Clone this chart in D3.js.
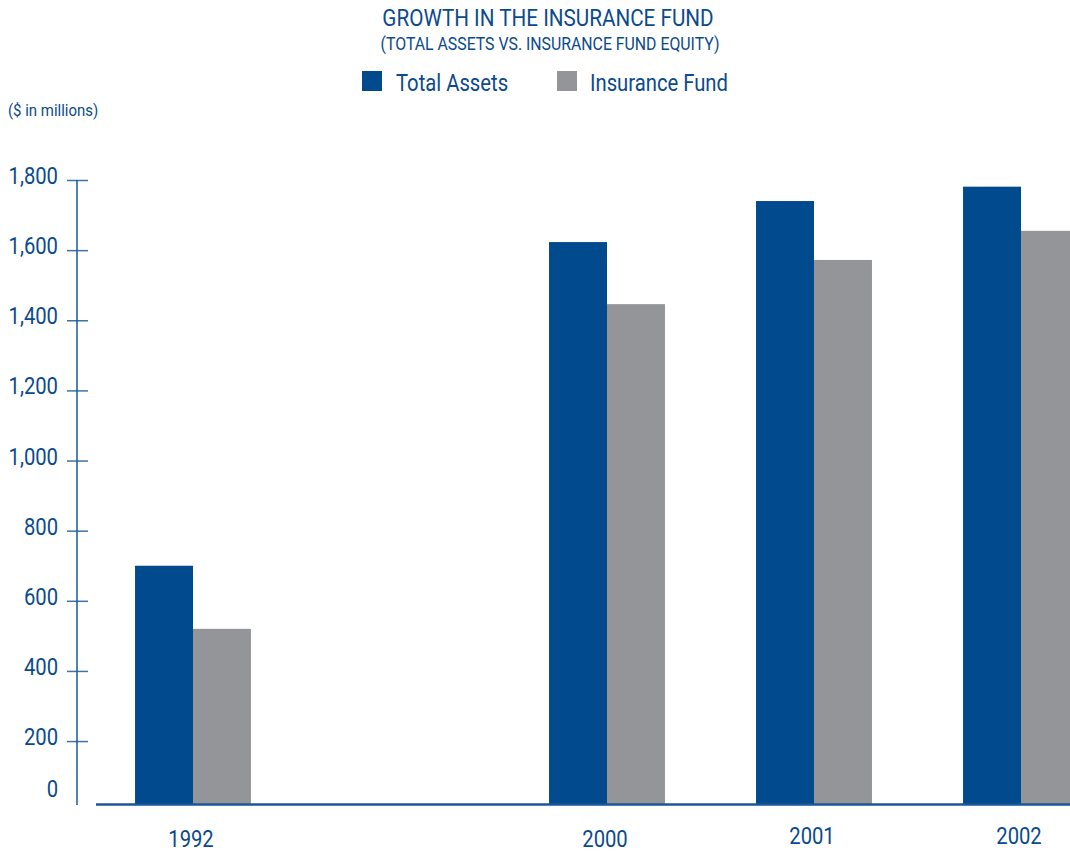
<!DOCTYPE html>
<html>
<head>
<meta charset="utf-8">
<script src="https://cdn.jsdelivr.net/npm/d3@7"></script>
<style>
  html, body { margin: 0; padding: 0; background: #fff; }
  svg { display: block; }
  text { font-family: Roboto, "Liberation Sans", sans-serif; font-weight: 400; fill: #0b4a8c; }
</style>
</head>
<body>
<svg id="chart" width="1070" height="851"></svg>
<script>
// ---- data ----
const years = ["1992", "2000", "2001", "2002"];
const slots = ["1992", "", "2000", "2001", "2002"]; // blank slot = gap on the axis
const seriesNames = ["Total Assets", "Insurance Fund"];
const totalAssets = [700, 1623, 1740, 1781];
const insuranceFund = [520, 1446, 1572, 1655];
const yTicks = [0, 200, 400, 600, 800, 1000, 1200, 1400, 1600, 1800];

const colors = { "Total Assets": "#004a8d", "Insurance Fund": "#939598" };
const blue = "#0b4a8c";
const K = 0.88; // horizontal condensing of the type

const svg = d3.select("#chart");

// place a text with a condensed horizontal scale
function place(sel, fx, fy) {
  sel.attr("x", 0).attr("y", 0)
     .attr("transform", (d, i) => `translate(${fx(d, i)},${fy(d, i)}) scale(${K},1)`);
}

const x = d3.scaleBand().domain(slots).range([89.5, 1124.5])
  .paddingInner(0.44).paddingOuter(0.22);
const xSub = d3.scaleBand().domain(seriesNames).range([0, x.bandwidth()]);
const y = d3.scaleLinear().domain([0, 1800]).range([811.2, 180]);
const baseY = 804.5;
const axisX = 77;

const data = years.map((yr, i) => ({ year: yr, values: [
  { name: "Total Assets", v: totalAssets[i] },
  { name: "Insurance Fund", v: insuranceFund[i] }
]}));

// bars
const g = svg.append("g");
g.selectAll("g.grp").data(data).join("g")
  .attr("transform", d => `translate(${x(d.year)},0)`)
  .selectAll("rect").data(d => d.values).join("rect")
  .attr("x", d => xSub(d.name))
  .attr("width", xSub.bandwidth())
  .attr("y", d => y(d.v))
  .attr("height", d => baseY - y(d.v))
  .attr("fill", d => colors[d.name]);

// baseline
svg.append("line").attr("x1", 96).attr("x2", 1070).attr("y1", baseY).attr("y2", baseY)
  .attr("stroke", "#1a5797").attr("stroke-width", 2.4);

// y axis
const yAxis = d3.axisLeft(y).tickValues(yTicks).tickFormat(d3.format(",")).tickSizeOuter(0);
const ya = svg.append("g").attr("transform", `translate(${axisX},0)`).call(yAxis);
ya.select(".domain").remove();
ya.selectAll(".tick line")
  .attr("x1", -10).attr("x2", 11)
  .attr("stroke", "#3e73aa").attr("stroke-width", 1.5)
  .filter(d => d === 0).remove();
ya.selectAll(".tick text")
  .attr("dy", null).attr("font-family", null).attr("font-size", null)
  .style("font-size", "23px").attr("fill", blue)
  .call(place, () => -19, d => d === 0 ? -15 : 3.5);
svg.append("line").attr("x1", axisX).attr("x2", axisX).attr("y1", 180).attr("y2", 805)
  .attr("stroke", "#1a5797").attr("stroke-width", 1.5);

// x labels
svg.append("g").selectAll("text").data(years).join("text")
  .attr("text-anchor", "middle")
  .style("font-size", "23px")
  .text(d => d)
  .call(place, d => x(d) + x.bandwidth() / 2 - 2, (d, i) => i < 2 ? 846.5 : 844);

// titles
svg.append("text").datum(0).attr("text-anchor", "middle")
  .style("font-size", "23.5px").text("GROWTH IN THE INSURANCE FUND")
  .call(place, () => 548, () => 26);
svg.append("text").datum(0).attr("text-anchor", "middle")
  .style("font-size", "18px").text("(TOTAL ASSETS VS. INSURANCE FUND EQUITY)")
  .call(place, () => 550, () => 50);

// legend
const legendPos = [{ sx: 362, tx: 396 }, { sx: 557, tx: 590 }];
const lg = svg.append("g").selectAll("g").data(seriesNames).join("g");
lg.append("rect").attr("x", (d, i) => legendPos[i].sx).attr("y", 71)
  .attr("width", 20).attr("height", 20).attr("fill", d => colors[d]);
lg.append("text").style("font-size", "23px").text(d => d)
  .call(place, (d, i) => legendPos[i].tx, () => 90.5);

// unit label
svg.append("text").datum(0).style("font-size", "17px").text("($ in millions)")
  .call(place, () => 8, () => 116);
</script>
</body>
</html>
